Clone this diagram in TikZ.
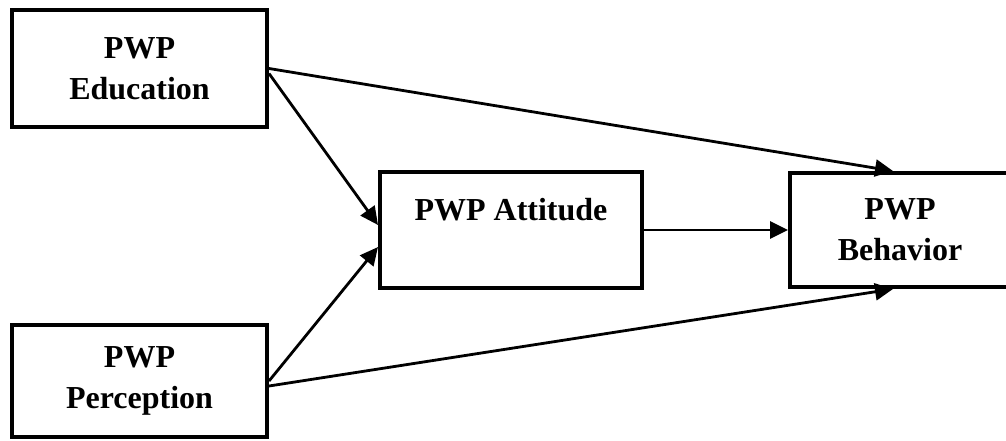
\documentclass[tikz,border=0pt]{standalone}
\usepackage{fontspec}
\setmainfont{Liberation Serif}
\usepackage{tikz}
\usetikzlibrary{positioning,arrows.meta}
\tikzstyle{var}=[%
      rectangle, draw=black, line width=4pt, fill=none,
      font=\bfseries\fontsize{32}{41}\selectfont, align=center, inner sep=2pt
]
\tikzstyle{link}=[%
      -{Triangle[length=18pt,width=17pt]}, line width=2.8pt
]

\begin{document}
\begin{tikzpicture}[x=1pt,y=-1pt]
\clip (0,0) rectangle (1006,440);
\node[var, minimum width=255pt, minimum height=117pt](edu) at (139.5,68.5){PWP\\Education};
\node[var, minimum width=255pt, minimum height=112pt](perc) at (139.5,381){PWP\\Perception};
\node[var, minimum width=262pt, minimum height=116pt](att) at (511,230){PWP Attitude\\~};
\node[var, minimum width=220pt, minimum height=114pt](beh) at (900,230){PWP\\Behavior};

\draw[link](edu.east) -- ([xshift=-7pt]beh.north);
\draw[link]([yshift=-5pt]edu.east) -- ([yshift=5pt]att.west);
\draw[link](perc.east) -- ([yshift=-17pt]att.west);
\draw[link]([yshift=-5pt]perc.east) -- ([xshift=-7pt]beh.south);
\draw[link](att.east) -- (beh.west);
\end{tikzpicture}
\end{document}
